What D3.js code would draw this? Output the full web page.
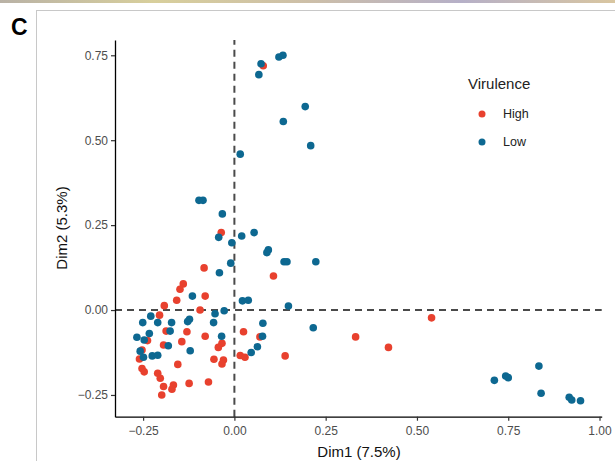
<!DOCTYPE html>
<html><head><meta charset="utf-8">
<script src="https://cdn.jsdelivr.net/npm/d3@7"></script>
<style>body{margin:0;background:#fff;} svg{display:block;font-family:"Liberation Sans",Arial,sans-serif;}</style>
</head><body>
<svg id="c" width="615" height="461"></svg>
<script>
// Data: [Dim1, Dim2]
const highPoints = [
 [0.079,0.719],[-0.036,0.228],[-0.083,0.124],[0.107,0.100],[-0.140,0.077],[-0.149,0.061],
 [-0.158,0.029],[-0.080,0.041],[-0.192,0.013],[-0.094,0.000],[-0.205,-0.015],[-0.187,-0.062],
 [-0.130,-0.064],[-0.080,-0.077],[-0.238,-0.090],[-0.144,-0.093],[-0.194,-0.103],[-0.034,-0.098],
 [-0.044,-0.110],[-0.253,-0.118],[-0.260,-0.144],[-0.056,-0.145],[-0.030,-0.147],[-0.034,-0.159],
 [0.016,-0.134],[0.029,-0.139],[0.025,-0.064],[0.139,-0.135],[-0.155,-0.160],[-0.253,-0.172],
 [-0.247,-0.182],[-0.210,-0.186],[-0.203,-0.201],[-0.194,-0.225],[-0.167,-0.221],[-0.171,-0.233],
 [-0.124,-0.216],[-0.071,-0.212],[-0.199,-0.250],[0.070,-0.079],[0.332,-0.079],[0.422,-0.110],
 [0.540,-0.023]
];
const lowPoints = [
 [0.122,0.745],[0.133,0.750],[0.073,0.725],[0.067,0.693],[0.194,0.599],[0.134,0.555],
 [0.209,0.484],[0.016,0.459],[-0.097,0.323],[-0.086,0.323],[-0.033,0.283],[-0.043,0.214],
 [0.020,0.218],[0.054,0.228],[-0.007,0.198],[0.093,0.177],[0.089,0.169],[0.136,0.142],
 [0.144,0.142],[0.223,0.142],[-0.010,0.138],[-0.041,0.110],[-0.115,0.041],[0.022,0.027],
 [0.038,0.029],[0.148,0.012],[-0.053,-0.011],[-0.028,-0.002],[-0.229,-0.018],[-0.251,-0.037],
 [-0.210,-0.037],[-0.172,-0.037],[-0.123,-0.027],[-0.128,-0.034],[-0.057,-0.037],[0.078,-0.039],
 [0.216,-0.052],[-0.176,-0.062],[-0.233,-0.069],[-0.267,-0.080],[-0.247,-0.088],[-0.035,-0.077],
 [0.077,-0.077],[-0.181,-0.105],[0.063,-0.108],[0.046,-0.125],[-0.121,-0.120],[-0.258,-0.121],
 [-0.249,-0.139],[-0.225,-0.135],[-0.210,-0.133],[0.712,-0.207],[0.743,-0.194],[0.750,-0.199],
 [0.834,-0.165],[0.840,-0.245],[0.917,-0.257],[0.924,-0.265],[0.948,-0.267]
];
const xTicks = [-0.25,0,0.25,0.5,0.75,1.0];
const yTicks = [-0.25,0,0.25,0.5,0.75];
const groups = ["High","Low"];
const groupColors = ["#E8412E","#0D6891"];
const xTitle = "Dim1 (7.5%)", yTitle = "Dim2 (5.3%)", legendTitle = "Virulence", panelLabel = "C";

const svg = d3.select("#c");
// top decorative strip and panel frame
const grad = svg.append("defs").append("linearGradient").attr("id","strip");
[["0%","#b9b2a6"],["25%","#d8cf9c"],["50%","#cdbfa8"],["75%","#b6b0c8"],["100%","#d9c6a0"]].forEach(s=>grad.append("stop").attr("offset",s[0]).attr("stop-color",s[1]));
svg.append("rect").attr("x",0).attr("y",0).attr("width",615).attr("height",3).attr("fill","url(#strip)");
svg.append("line").attr("x1",36.5).attr("x2",36.5).attr("y1",10).attr("y2",461).attr("stroke","#c8c8c8");
svg.append("line").attr("x1",36).attr("x2",615).attr("y1",10.5).attr("y2",10.5).attr("stroke","#c8c8c8");
svg.append("text").attr("x",11).attr("y",35).attr("font-size",23).attr("font-weight","bold").attr("fill","#000").text(panelLabel);

const x = d3.scaleLinear().domain([-0.327,1.006]).range([115,601.7]);
const y = d3.scaleLinear().domain([-0.314,0.795]).range([416.7,40]);

// dashed reference lines
svg.append("line").attr("x1",x.range()[0]).attr("x2",x.range()[1]).attr("y1",y(0)).attr("y2",y(0))
  .attr("stroke","#4a4a4a").attr("stroke-width",2).attr("stroke-dasharray","7,5");
svg.append("line").attr("x1",x(0)).attr("x2",x(0)).attr("y1",y.range()[0]).attr("y2",y.range()[1])
  .attr("stroke","#4a4a4a").attr("stroke-width",2).attr("stroke-dasharray","7,5");

// points
const allPts = highPoints.map(d=>({x:d[0],y:d[1],g:0})).concat(lowPoints.map(d=>({x:d[0],y:d[1],g:1})));
svg.append("g").selectAll("circle").data(allPts).join("circle")
  .attr("cx",d=>x(d.x)).attr("cy",d=>y(d.y)).attr("r",3.8)
  .attr("fill",d=>groupColors[d.g]);

// axes
const fmt = d3.format(".2f");
const xAxis = svg.append("g").attr("transform",`translate(0,${y.range()[0]})`)
  .call(d3.axisBottom(x).tickValues(xTicks).tickFormat(fmt).tickSize(4).tickSizeOuter(0));
const yAxis = svg.append("g").attr("transform",`translate(${x.range()[0]},0)`)
  .call(d3.axisLeft(y).tickValues(yTicks).tickFormat(fmt).tickSize(4).tickSizeOuter(0));
[xAxis,yAxis].forEach(a=>{
  a.select(".domain").attr("stroke","#000").attr("stroke-width",1.3);
  a.selectAll(".tick line").attr("stroke","#333").attr("stroke-width",1.2);
  a.selectAll(".tick text").attr("fill","#4d4d4d").attr("font-size",12).attr("font-family","Liberation Sans, Arial, sans-serif");
});
xAxis.selectAll(".tick text").attr("dy","0.95em");
yAxis.selectAll(".tick text").attr("x",-7);

svg.append("text").attr("x",359).attr("y",457).attr("text-anchor","middle").attr("font-size",15).attr("fill","#111").text(xTitle);
svg.append("text").attr("transform","translate(67,228) rotate(-90)").attr("text-anchor","middle").attr("font-size",15).attr("fill","#111").text(yTitle);

// legend
svg.append("text").attr("x",468).attr("y",89).attr("font-size",15).attr("fill","#222").text(legendTitle);
groups.forEach((g,i)=>{
  const cy = 114 + i*28;
  svg.append("circle").attr("cx",482).attr("cy",cy).attr("r",3.5).attr("fill",groupColors[i]);
  svg.append("text").attr("x",503).attr("y",cy).attr("dy","0.35em").attr("font-size",12.5).attr("fill","#222").text(g);
});
</script>
</body></html>
